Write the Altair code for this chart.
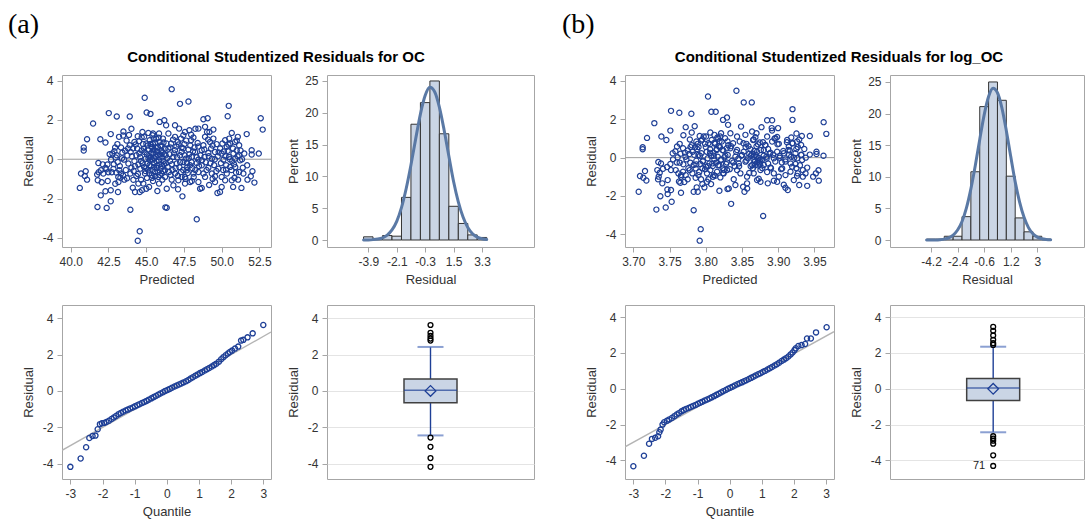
import altair as alt
import pandas as pd

FONT = "Liberation Sans"
SERIF = "Liberation Serif"
FRAME = "#A6A6A6"
MARK = "#1E3F96"
FILL = "#CAD5E5"
CURVE = "#5A79A5"
TXT = "#333333"

# ------------------------------------------------------------------ data
# (a) Residual vs Predicted
scatter_a = [
    (40.60,-1.46),(40.68,-0.73),(40.99,-0.61),(40.93,-0.85),(41.08,-1.04),(40.86,0.60),(40.86,0.44),(41.08,1.02),
    (41.48,1.82),(41.77,-2.43),(41.99,-1.84),(41.83,-0.19),(41.85,-0.66),(42.00,-0.56),(41.75,-0.78),(41.79,-1.07),
    (42.05,-1.17),(42.16,-0.73),(42.30,-0.44),(42.43,-0.27),(42.12,-0.26),(42.30,0.85),(41.96,1.02),(42.52,2.35),
    (42.38,-2.48),(42.30,-1.63),(42.45,-1.11),(42.36,-0.51),(42.49,-0.66),(42.65,-2.14),(42.65,-1.58),(43.13,-1.67),
    (42.65,1.28),(43.05,2.18),(43.20,1.14),(43.49,1.41),(43.47,1.21),(42.58,0.26),(42.76,0.29),(42.89,0.41),
    (42.98,0.09),(43.11,-0.14),(42.67,-0.02),(42.83,-0.49),(42.72,-0.66),(43.02,-0.68),(43.22,-0.56),(43.33,-0.73),
    (43.47,-0.83),(43.16,-1.16),(43.29,-0.94),(43.55,-1.04),(42.94,0.60),(43.09,0.77),(43.33,0.60),(43.42,0.34),
    (43.60,0.43),(43.53,-0.02),(43.91,2.18),(43.86,1.24),(44.02,1.55),(43.95,-2.57),(44.57,-3.67),(44.44,-4.15),
    (44.11,-1.45),(44.26,-1.67),(44.57,-1.67),(44.72,-1.58),(44.48,-1.24),(44.66,-1.04),(43.73,-0.97),(43.95,-0.73),
    (44.17,-0.60),(44.35,-0.85),(44.02,-0.43),(43.82,-0.22),(44.22,-0.09),(44.48,-0.27),(44.61,-0.48),(44.66,-0.09),
    (43.75,0.19),(43.97,0.37),(44.13,0.56),(44.30,0.75),(44.53,0.92),(44.70,1.12),(44.79,0.77),(44.35,0.20),
    (44.55,0.29),(43.91,0.71),(44.22,0.88),(44.44,1.17),(44.90,3.13),(45.03,2.38),(45.28,2.31),(45.89,1.90),
    (46.20,1.99),(45.74,-1.62),(46.27,-2.45),(44.81,-1.24),(45.01,-1.50),(45.19,-1.41),(45.45,-1.11),(45.85,-1.24),
    (46.07,-1.04),(44.92,-0.73),(45.14,-0.56),(45.36,-0.82),(45.58,-0.65),(45.81,-0.90),(46.03,-0.73),(46.25,-0.56),
    (44.86,-0.39),(45.08,-0.22),(45.30,-0.36),(45.52,-0.19),(45.74,-0.32),(45.96,-0.48),(46.18,-0.26),(44.97,0.03),
    (45.19,0.15),(45.41,-0.02),(45.63,0.12),(45.85,-0.05),(46.07,0.09),(46.29,0.20),(44.90,0.37),(45.12,0.49),
    (45.34,0.32),(45.56,0.46),(45.78,0.60),(46.00,0.43),(46.23,0.54),(45.01,0.80),(45.23,0.97),(45.45,0.77),
    (45.67,1.04),(45.89,0.88),(46.11,1.05),(46.34,0.80),(44.86,1.14),(45.41,1.22),(45.14,1.34),(45.85,1.31),
    (44.75,1.39),(45.45,1.31),(45.05,-0.95),(45.25,-0.05),(45.48,0.30),(45.70,-0.45),(45.92,0.25),(46.15,-0.10),
    (45.35,0.62),(45.60,-0.85),(45.95,0.70),(46.10,0.35),(45.15,0.05),(45.55,0.05),(45.75,0.20),(46.05,-0.35),
    (45.40,-0.55),(45.20,-0.72),
    (46.69,3.57),(47.24,2.82),(47.80,2.94),(50.47,2.72),(50.40,2.19),(52.59,2.09),(52.72,1.51),(48.79,2.04),
    (49.07,2.09),(48.90,1.65),(49.03,1.39),(49.19,1.39),(49.45,1.51),(48.46,1.56),(48.26,1.55),(47.86,1.48),
    (50.67,1.34),(51.07,1.14),(51.66,1.28),(51.99,0.46),(51.99,0.24),(52.46,0.29),(51.50,0.29),(51.40,-0.43),
    (52.04,-0.61),(51.93,-0.87),(51.71,-1.04),(52.17,-1.19),(51.31,-1.46),(51.09,-1.04),(50.76,-1.41),(50.00,-1.41),
    (49.89,-1.67),(49.72,-1.72),(49.17,-1.31),(48.68,-1.46),(48.57,-1.50),(48.35,-3.06),(47.40,-1.89),(47.11,-1.53),
    (46.36,-2.47),(48.02,-1.11),(47.91,-1.16),(46.69,-1.04),(46.91,-0.73),(46.51,-0.65),(47.13,-1.07),(47.57,-0.90),
    (47.31,-0.65),(47.68,-0.56),(48.13,-0.73),(48.46,-0.65),(48.79,-0.73),(48.90,-0.90),(49.35,-0.73),(49.56,-0.87),
    (50.00,-0.90),(50.34,-0.73),(50.29,-0.53),(50.95,-0.68),(50.82,-0.26),(50.56,-0.39),(49.78,-0.48),(49.12,-0.43),
    (48.68,-0.31),(48.35,-0.19),(47.91,-0.31),(47.46,-0.14),(47.02,-0.22),(46.58,-0.09),(46.42,-0.39),(46.80,0.12),
    (47.24,0.20),(47.62,0.03),(48.02,0.12),(48.46,-0.02),(48.86,0.12),(49.35,0.03),(49.74,0.15),(50.12,-0.02),
    (50.49,0.12),(50.89,0.03),(51.22,-0.05),(51.16,0.20),(50.78,0.29),(50.40,0.43),(50.00,0.29),(49.56,0.37),
    (49.12,0.32),(48.68,0.46),(48.24,0.37),(47.80,0.49),(47.35,0.37),(46.91,0.46),(46.47,0.54),(46.65,0.80),
    (47.09,0.88),(47.53,0.77),(47.97,0.97),(48.41,0.83),(48.79,0.71),(49.23,0.88),(49.67,0.77),(50.23,0.97),
    (50.56,0.80),(50.89,0.88),(51.16,0.71),(50.34,0.63),(46.91,1.14),(47.46,1.22),(48.13,1.11),(48.90,1.14),
    (49.45,1.05),(46.47,1.31),(46.32,1.73),(46.91,1.73),(47.18,1.56),(47.57,1.39),(49.56,-1.16),(50.23,-1.07),
    (50.67,-1.07),(51.44,-0.73),(51.69,-0.31),(48.46,-1.16),(47.57,-1.24),(46.80,-1.33),(46.36,-1.50),
    (46.55,0.25),(46.75,-0.55),(47.00,0.65),(47.20,-0.40),(47.45,0.55),(47.70,-0.20),(47.85,0.25),(48.05,-0.45),
    (48.20,0.60),(48.60,0.20),(48.95,-0.15),(49.30,0.55),(49.50,-0.30),(49.90,0.55),(50.10,-0.55),(50.70,-0.10),
    (51.00,0.45),(50.25,0.15),(47.75,-0.70),(47.35,-0.90),
    (44.60,0.10),(44.75,-0.20),(44.85,0.55),(45.00,-0.45),(45.10,0.70),(45.22,-0.30),(45.30,0.10),(45.38,-0.95),
    (45.45,0.45),(45.52,-0.40),(45.60,0.85),(45.68,-0.10),(45.72,0.40),(45.80,-0.65),(45.88,0.10),(45.95,-0.25),
    (46.02,0.65),(46.12,-0.60),(46.20,0.25),(46.30,-0.20),(45.05,0.25),(45.28,0.78),(45.62,0.60),(45.90,-0.80),
    (46.15,0.85),(44.95,-0.60),(45.50,1.05),(45.82,1.10),(46.25,-0.90),(44.70,0.45),
    (46.60,0.60),(46.70,-0.25),(46.85,0.30),(46.95,-0.45),(47.05,0.10),(47.15,0.75),(47.25,-0.15),(47.35,0.60),
    (47.45,-0.55),(47.55,0.20),(47.65,0.95),(47.72,-0.40),(47.82,0.05),(47.92,0.70),(48.00,-0.15),(48.10,0.40),
    (48.25,-0.55),(48.35,0.10),(48.45,0.65),(46.78,1.00),(47.10,-0.85),(47.60,-1.00),(48.15,-0.90),(46.62,-0.80),
    (47.98,1.25),(47.30,1.05),(46.40,0.05),(48.50,-0.35),
    (48.70,-0.05),(48.85,0.50),(49.00,-0.55),(49.15,0.15),(49.25,-0.20),(49.40,0.70),(49.55,0.00),(49.65,-0.60),
    (49.80,0.35),(49.95,-0.20),(50.05,0.80),(50.15,0.40),(50.30,-0.30),(50.45,0.75),(50.55,0.00),(50.65,-0.55),
    (50.75,0.55),(50.90,-0.40),(51.05,0.15),(51.15,-0.65),(51.25,0.45),(51.35,0.00),(50.50,1.05),(49.10,1.00),
    (51.00,0.95),(50.85,-0.95),(49.40,-1.00),
    (42.85,-0.25),(43.05,0.20),(43.25,-0.35),(43.40,0.05),(43.65,-0.55),(43.80,0.55),(44.05,0.15),(44.25,-0.35),
    (44.40,0.55),(43.15,-0.90),(43.70,0.95),(44.45,-0.75),(42.95,-1.25),(44.15,-1.05),
]

# (b) Residual vs Predicted (log scale)
scatter_b = [
    (3.7074,-1.78),(3.7092,-0.96),(3.7138,-1.05),(3.7180,-1.19),(3.7161,-0.70),(3.7129,0.54),(3.7129,0.44),(3.7189,1.03),
    (3.7290,1.80),(3.7318,-2.71),(3.7373,-2.01),(3.7447,-2.60),(3.7474,-1.90),(3.7529,-2.30),(3.7470,-1.66),(3.7520,-1.69),
    (3.7658,-1.83),(3.7387,1.10),(3.7456,0.92),(3.7520,2.44),(3.7635,2.34),(3.7511,1.41),(3.7691,1.17),(3.7723,1.59),
    (3.7801,2.29),(3.7806,1.31),(3.7847,1.64),(3.8031,3.19),(3.8077,2.39),(3.8137,2.39),(3.7833,-2.74),(3.7930,-3.73),
    (3.7916,-4.33),(3.7345,-0.23),(3.7382,-0.30),(3.7331,-0.65),(3.7364,-0.79),(3.7410,-0.58),(3.7465,-0.49),(3.7520,-0.65),
    (3.7341,-1.13),(3.7400,-1.34),(3.7474,-1.17),(3.7350,-0.99),(3.7511,-0.33),(3.7543,0.23),(3.7580,0.33),(3.7612,0.02),
    (3.7640,-0.26),(3.7548,-0.09),(3.7585,-0.65),(3.7622,-0.82),(3.7658,-0.99),(3.7686,-0.73),(3.7723,-0.91),(3.7649,-1.31),
    (3.7750,-1.13),(3.7704,-1.27),(3.7603,0.58),(3.7640,0.72),(3.7686,0.49),(3.7713,0.26),(3.7750,0.37),(3.7732,-0.09),
    (3.7833,-1.78),(3.7875,-1.55),(3.7889,-1.78),(3.7953,-1.38),(3.7981,-1.55),(3.8017,-1.26),(3.8073,-1.38),(3.8100,-1.00),
    (3.8036,-1.13),(3.7935,-1.13),(3.7778,-0.65),(3.7815,-0.82),(3.7861,-0.56),(3.7898,-0.91),(3.7833,-0.38),(3.7787,-0.26),
    (3.7870,-0.16),(3.7925,-0.33),(3.7953,-0.56),(3.7962,-0.16),(3.7774,0.19),(3.7819,0.31),(3.7852,0.54),(3.7889,0.72),
    (3.7935,0.89),(3.7971,1.10),(3.7990,0.72),(3.7898,0.14),(3.7940,0.23),(3.7806,0.65),(3.7870,0.84),(3.7916,1.13),
    (3.8017,-0.82),(3.8063,-0.65),(3.8110,-0.91),(3.8156,-0.73),(3.8201,-1.03),(3.8247,-0.82),(3.8294,-0.65),(3.8004,-0.47),
    (3.8050,-0.30),(3.8096,-0.44),(3.8142,-0.26),(3.8188,-0.40),(3.8234,-0.56),(3.8280,-0.33),(3.8027,-0.03),(3.8073,0.09),
    (3.8119,-0.09),(3.8165,0.05),(3.8211,-0.12),(3.8257,0.02),(3.8303,0.14),(3.8013,0.31),(3.8059,0.44),(3.8105,0.26),
    (3.8151,0.40),(3.8197,0.54),(3.8243,0.37),(3.8289,0.49),(3.8036,0.75),(3.8082,0.92),(3.8128,0.72),(3.8174,0.99),
    (3.8220,0.84),(3.8266,1.01),(3.8004,1.10),(3.8119,1.19),(3.8063,1.31),(3.8211,1.27),(3.8238,1.97),(3.8293,2.09),
    (3.8350,-2.41),(3.8188,-1.73),(3.8300,-1.64),
    (3.8423,3.49),(3.8524,2.88),(3.8635,2.88),(3.9197,2.53),(3.9197,1.97),(3.9627,1.85),(3.9664,1.24),(3.8847,1.95),
    (3.8916,1.95),(3.8910,1.54),(3.8915,1.41),(3.8998,1.54),(3.8985,1.08),(3.8769,1.59),(3.8700,1.27),(3.8639,1.36),
    (3.9252,1.26),(3.9326,1.13),(3.9436,1.13),(3.9528,0.31),(3.9528,0.19),(3.9625,0.10),(3.9436,0.16),(3.9400,-0.52),
    (3.9556,-0.66),(3.9520,-0.82),(3.9482,-0.99),(3.9560,-1.20),(3.9400,-1.47),(3.9340,-0.99),(3.9290,-1.43),(3.9132,-1.69),
    (3.9100,-1.57),(3.9077,-1.41),(3.8939,-1.20),(3.8856,-1.34),(3.8792,-3.04),(3.8571,-1.61),(3.8534,-1.78),(3.8515,-1.52),
    (3.8708,-1.17),(3.8731,-1.10),(3.8662,-0.82),(3.8570,-0.99),(3.8478,-0.82),(3.8386,-1.13),(3.8432,-0.65),(3.8755,-0.65),
    (3.8847,-0.75),(3.8939,-0.82),(3.9008,-0.99),(3.9100,-0.91),(3.9169,-0.73),(3.9270,-0.82),(3.9238,-0.33),(3.9192,-0.47),
    (3.9054,-0.56),(3.8893,-0.51),(3.8801,-0.38),(3.8732,-0.26),(3.8640,-0.38),(3.8548,-0.21),(3.8456,-0.30),(3.8363,-0.16),
    (3.8409,0.05),(3.8501,0.14),(3.8579,-0.03),(3.8662,0.05),(3.8755,-0.09),(3.8837,0.05),(3.8939,-0.03),(3.9021,0.09),
    (3.9100,-0.09),(3.9178,0.05),(3.9261,-0.03),(3.9330,-0.12),(3.9316,0.14),(3.9238,0.23),(3.9160,0.37),(3.9077,0.23),
    (3.8985,0.31),(3.8893,0.26),(3.8801,0.40),(3.8708,0.31),(3.8616,0.44),(3.8524,0.31),(3.8432,0.40),(3.8340,0.49),
    (3.8377,0.75),(3.8469,0.84),(3.8561,0.72),(3.8653,0.92),(3.8745,0.79),(3.8824,0.66),(3.8916,0.84),(3.9008,0.72),
    (3.9123,0.92),(3.9192,0.75),(3.9261,0.84),(3.9316,0.66),(3.9146,0.58),(3.8432,1.10),(3.8547,1.19),(3.8685,1.06),
    (3.8847,1.10),(3.8962,1.01),(3.8340,1.27),(3.8308,1.71),(3.8487,1.62),(3.8570,-1.34),(3.8409,-1.43),(3.8317,-1.61),
    (3.8755,-1.26),(3.8985,-1.26),(3.9215,-1.17),(3.9377,-0.82),
    (3.8400,-0.45),(3.8600,0.20),(3.8650,-0.55),(3.8700,0.60),(3.8780,-0.10),(3.8680,-0.20),(3.8620,0.10),(3.8720,-0.40),
    (3.8860,0.45),(3.9050,-0.25),(3.9150,0.15),(3.9250,0.45),(3.8550,0.55),(3.8450,-0.05),
    (3.7920,0.10),(3.7960,-0.20),(3.8000,0.55),(3.8030,-0.45),(3.8060,0.70),(3.8090,-0.30),(3.8110,0.10),(3.8130,-0.95),
    (3.8150,0.45),(3.8170,-0.40),(3.8190,0.85),(3.8210,-0.10),(3.8230,0.40),(3.8250,-0.65),(3.8270,0.10),(3.8290,-0.25),
    (3.8310,0.65),(3.8330,-0.60),(3.8060,0.25),(3.8120,0.78),(3.8180,0.60),(3.8240,-0.80),(3.8300,0.85),(3.7990,-0.60),
    (3.8160,1.05),(3.8200,1.10),(3.7880,0.45),(3.7950,0.95),
    (3.8350,0.60),(3.8380,-0.25),(3.8420,0.30),(3.8460,-0.45),(3.8490,0.10),(3.8520,0.75),(3.8560,-0.15),(3.8590,0.60),
    (3.8620,-0.45),(3.8640,0.20),(3.8660,0.95),(3.8680,-0.40),(3.8700,0.05),(3.8720,0.70),(3.8740,-0.15),(3.8760,0.40),
    (3.8780,-0.55),(3.8800,0.10),(3.8820,0.65),(3.8840,-0.05),(3.8860,-0.30),(3.8880,0.20),(3.8660,-0.10),(3.8690,0.15),
    (3.8710,-0.25),(3.8730,0.00),(3.8670,0.35),(3.8750,-0.35),(3.8600,-0.80),(3.8790,0.80),
    (3.8900,-0.55),(3.8930,0.15),(3.8960,-0.20),(3.8990,0.70),(3.9020,0.00),(3.9040,-0.60),(3.9070,0.35),(3.9100,-0.20),
    (3.9120,0.80),(3.9140,0.40),(3.9170,-0.30),(3.9200,0.75),(3.9220,0.00),(3.9250,-0.55),(3.9270,0.55),(3.9300,-0.40),
    (3.9320,0.15),(3.9340,-0.65),(3.9360,0.45),(3.9380,0.00),(3.9180,1.05),(3.8950,1.00),(3.9290,0.95),(3.9260,-0.95),
    (3.7600,-0.25),(3.7650,0.20),(3.7690,-0.35),(3.7720,0.05),(3.7760,-0.55),(3.7790,0.55),(3.7840,0.15),(3.7870,-0.35),
    (3.7900,0.55),(3.7660,-0.90),(3.7780,0.95),(3.7910,-0.75),(3.7630,-1.25),(3.7860,-1.05),
]

# Histograms (percent per bin) and fitted density curves
hist_a_edges = [-4.2, -3.6, -3.0, -2.4, -1.8, -1.2, -0.6, 0.0, 0.6, 1.2, 1.8, 2.4, 3.0, 3.6]
hist_a_pct = [0.5, 0.2, 0.7, 0.6, 6.7, 18.2, 21.6, 25.0, 16.7, 5.3, 2.6, 0.8, 0.4]
curve_a_x = [-4.2, -3.9, -3.6, -3.3, -3.0, -2.7, -2.4, -2.1, -1.8, -1.5, -1.2, -0.9, -0.6, -0.3,
             0.0, 0.3, 0.6, 0.9, 1.2, 1.5, 1.8, 2.1, 2.4, 2.7, 3.0, 3.3, 3.6]
curve_a_y = [0.01, 0.02, 0.06, 0.15, 0.35, 0.78, 1.58, 2.94, 5.09, 8.1, 11.8, 15.9, 19.8, 22.7,
             24.0, 23.3, 20.9, 17.3, 13.2, 9.2, 6.0, 3.6, 1.96, 0.99, 0.46, 0.2, 0.08]

hist_b_edges = [-4.5, -3.9, -3.3, -2.7, -2.1, -1.5, -0.9, -0.3, 0.3, 0.9, 1.5, 2.1, 2.7, 3.3, 3.9]
hist_b_pct = [0.15, 0.15, 0.6, 0.6, 3.7, 10.8, 21.1, 25.0, 22.1, 10.1, 3.5, 1.3, 0.6, 0.15]
curve_b_x = [-4.5, -4.2, -3.9, -3.6, -3.3, -3.0, -2.7, -2.4, -2.1, -1.8, -1.5, -1.2, -0.9, -0.6, -0.3,
             0.0, 0.3, 0.6, 0.9, 1.2, 1.5, 1.8, 2.1, 2.4, 2.7, 3.0, 3.3, 3.6, 3.9]
curve_b_y = [0.0, 0.01, 0.02, 0.06, 0.15, 0.35, 0.78, 1.58, 2.94, 5.09, 8.1, 11.8, 15.9, 19.8, 22.7,
             24.0, 23.3, 20.9, 17.3, 13.2, 9.2, 6.0, 3.6, 1.96, 0.99, 0.46, 0.2, 0.08, 0.03]

# Q-Q plots
qq_a_q = [-3.00, -2.68, -2.51, -2.41, -2.31, -2.22, -2.15, -2.08, -2.02,
          -1.95, -1.88, -1.80, -1.72, -1.65, -1.58, -1.50, -1.43, -1.36, -1.28, -1.21, -1.14, -1.06,
          -0.99, -0.92, -0.85, -0.77, -0.70, -0.63, -0.56, -0.48, -0.41, -0.34, -0.27, -0.20, -0.12,
          -0.05, 0.02, 0.09, 0.16, 0.24, 0.31, 0.38, 0.45, 0.52, 0.60, 0.67, 0.74, 0.81, 0.89, 0.96,
          1.03, 1.10, 1.18, 1.25, 1.32, 1.40, 1.47, 1.54, 1.62, 1.69, 1.76, 1.83, 1.90, 1.96,
          2.03, 2.12, 2.22, 2.31, 2.38, 2.51, 2.67, 3.00]
qq_a_r = [-4.18, -3.72, -3.10, -2.59, -2.48, -2.46, -2.11, -1.83, -1.78,
          -1.76, -1.71, -1.64, -1.55, -1.46, -1.38, -1.28, -1.21, -1.15, -1.08, -1.03, -0.97, -0.91,
          -0.85, -0.79, -0.73, -0.66, -0.61, -0.55, -0.48, -0.41, -0.34, -0.28, -0.21, -0.14, -0.07,
          0.00, 0.05, 0.11, 0.17, 0.24, 0.30, 0.35, 0.41, 0.47, 0.53, 0.60, 0.68, 0.75, 0.84, 0.91,
          0.98, 1.04, 1.12, 1.19, 1.26, 1.34, 1.42, 1.50, 1.61, 1.74, 1.86, 1.96, 2.06, 2.14,
          2.22, 2.33, 2.44, 2.77, 2.81, 2.95, 3.17, 3.63]
qq_a_ref_q = [-3.26, 3.24]
qq_a_ref_r = [-3.27, 3.24]

qq_b_q = [-3.00, -2.67, -2.51, -2.42, -2.32, -2.23, -2.19, -2.15, -2.09, -2.04,
          -1.95, -1.88, -1.80, -1.72, -1.65, -1.58, -1.50, -1.43, -1.36, -1.28, -1.21, -1.14, -1.06,
          -0.99, -0.92, -0.85, -0.77, -0.70, -0.63, -0.56, -0.48, -0.41, -0.34, -0.27, -0.20, -0.12,
          -0.05, 0.02, 0.09, 0.16, 0.24, 0.31, 0.38, 0.45, 0.52, 0.60, 0.67, 0.74, 0.81, 0.89, 0.96,
          1.03, 1.10, 1.18, 1.25, 1.32, 1.40, 1.47, 1.54, 1.62, 1.69, 1.76, 1.83, 1.90, 1.96,
          2.02, 2.06, 2.14, 2.24, 2.35, 2.41, 2.53, 2.69, 3.02]
qq_b_r = [-4.33, -3.74, -3.07, -2.80, -2.74, -2.65, -2.43, -2.28, -2.00, -1.87,
          -1.78, -1.71, -1.63, -1.53, -1.44, -1.36, -1.26, -1.19, -1.13, -1.07, -1.02, -0.96, -0.90,
          -0.84, -0.78, -0.72, -0.65, -0.60, -0.54, -0.48, -0.41, -0.34, -0.28, -0.21, -0.14, -0.07,
          0.00, 0.06, 0.12, 0.18, 0.25, 0.31, 0.36, 0.42, 0.48, 0.55, 0.61, 0.67, 0.74, 0.81, 0.87,
          0.94, 1.00, 1.08, 1.15, 1.22, 1.30, 1.37, 1.45, 1.55, 1.63, 1.71, 1.80, 1.92, 2.03,
          2.16, 2.26, 2.39, 2.44, 2.50, 2.81, 2.81, 3.15, 3.44]
qq_b_ref_q = [-3.26, 3.25]
qq_b_ref_r = [-3.24, 3.19]

# Box plots: q1, median, q3, mean, lower whisker, upper whisker, outliers
box_a_stats = {"q1": -0.65, "med": 0.03, "q3": 0.65, "mean": 0.0, "wlo": -2.45, "whi": 2.42}
box_a_out = [3.63, 3.20, 3.03, 2.88, 2.77, -2.57, -3.08, -3.70, -4.18]
box_b_stats = {"q1": -0.66, "med": 0.04, "q3": 0.57, "mean": 0.0, "wlo": -2.43, "whi": 2.35}
box_b_out = [3.46, 3.24, 2.98, 2.74, 2.55, 2.45, -2.65, -2.78, -2.90, -3.07, -3.72, -4.31]
box_b_label = ["71"]
box_b_label_val = [-4.31]

# ------------------------------------------------------------------ helpers
Y_TICKS = [-4, -2, 0, 2, 4]
PT_SIZE = 27


def y_enc(field, dom, title, values, grid=False):
    return alt.Y(f"{field}:Q",
                 scale=alt.Scale(domain=dom, nice=False, zero=False),
                 axis=alt.Axis(title=title, values=values, labelExpr="datum.value",
                               grid=grid, gridColor="#E4E4E4", gridWidth=1,
                               minExtent=22, maxExtent=22, titlePadding=5))


def x_enc(field, dom, title, values, expr="datum.value"):
    return alt.X(f"{field}:Q",
                 scale=alt.Scale(domain=dom, nice=False, zero=False),
                 axis=alt.Axis(title=title, values=values, labelExpr=expr, labelFlush=False,
                               titlePadding=6))


def scatter_chart(points, xdom, xvals, xfmt, ydom, title):
    df = pd.DataFrame(points, columns=["Predicted", "Residual"])
    X = x_enc("Predicted", xdom, "Predicted", xvals, f"format(datum.value, '{xfmt}')")
    Y = y_enc("Residual", ydom, "Residual", Y_TICKS)
    zero = alt.Chart(pd.DataFrame({"Residual": [0.0]})).mark_rule(
        color="#9A9A9A", strokeWidth=1).encode(y=Y)
    pts = alt.Chart(df).mark_point(shape="circle", filled=False, color=MARK, size=PT_SIZE,
                                   strokeWidth=1.2, opacity=1).encode(x=X, y=Y)
    return alt.layer(zero, pts).properties(width=209, height=172, title=title)


def hist_chart(edges, pct, cx, cy, xdom, xvals, width, ydom):
    bars = pd.DataFrame({"lo": edges[:-1], "hi": edges[1:], "pct": pct,
                         "base": [0.0] * len(pct)})
    curve = pd.DataFrame({"lo": cx, "pct": cy})
    X = x_enc("lo", xdom, "Residual", xvals)
    Y = y_enc("pct", ydom, "Percent", [0, 5, 10, 15, 20, 25])
    b = alt.Chart(bars).mark_rect(fill=FILL, stroke="#333333", strokeWidth=1).encode(
        x=X, x2="hi:Q", y=Y, y2="base:Q")
    c = alt.Chart(curve).mark_line(color=CURVE, strokeWidth=3, interpolate="monotone",
                                   strokeCap="round").encode(x=X, y=Y)
    return alt.layer(b, c).properties(width=width, height=172)


def qq_chart(q, r, rq, rr, xdom, ydom):
    df = pd.DataFrame({"Quantile": q, "Residual": r})
    ref = pd.DataFrame({"Quantile": rq, "Residual": rr})
    X = x_enc("Quantile", xdom, "Quantile", [-3, -2, -1, 0, 1, 2, 3])
    Y = y_enc("Residual", ydom, "Residual", Y_TICKS)
    line = alt.Chart(ref).mark_line(color="#B4B4B4", strokeWidth=1.4, clip=True).encode(x=X, y=Y)
    pts = alt.Chart(df).mark_point(shape="circle", filled=False, color=MARK, size=PT_SIZE,
                                   strokeWidth=1.3, opacity=1).encode(x=X, y=Y)
    return alt.layer(line, pts).properties(width=209, height=174)


def box_chart(st, outs, xdom, width, ydom, labels=None, label_vals=None):
    X = alt.X("pos:Q", scale=alt.Scale(domain=xdom, nice=False, zero=False), axis=None)

    def Y(field):
        return y_enc(field, ydom, "Residual", Y_TICKS, grid=True)

    whisk = pd.DataFrame({"pos": [0, 0], "a": [st["wlo"], st["q3"]], "b": [st["q1"], st["whi"]]})
    box = pd.DataFrame({"pos": [0], "a": [st["q1"]], "b": [st["q3"]]})
    caps = pd.DataFrame({"pos": [0, 0], "a": [st["wlo"], st["whi"]]})
    med = pd.DataFrame({"pos": [0], "a": [st["med"]]})
    mean = pd.DataFrame({"pos": [0], "a": [st["mean"]]})
    out = pd.DataFrame({"pos": [0] * len(outs), "a": outs})

    layers = [
        alt.Chart(whisk).mark_rule(color=MARK, strokeWidth=1.4).encode(x=X, y=Y("a"), y2="b:Q"),
        alt.Chart(box).mark_bar(size=53, fill=FILL, stroke="#404040", strokeWidth=1.5).encode(
            x=X, y=Y("a"), y2="b:Q"),
        alt.Chart(med).mark_tick(orient="horizontal", size=53, thickness=1.5, color=MARK).encode(
            x=X, y=Y("a")),
        alt.Chart(caps).mark_tick(orient="horizontal", size=26, thickness=2, color="#5A78BF").encode(
            x=X, y=Y("a")),
        alt.Chart(mean).mark_point(shape="diamond", filled=False, size=115, color=MARK,
                                   strokeWidth=1.3, opacity=1).encode(x=X, y=Y("a")),
        alt.Chart(out).mark_point(shape="circle", filled=False, size=24, color="black",
                                  strokeWidth=1.3, opacity=1).encode(x=X, y=Y("a")),
    ]
    if labels:
        lab = pd.DataFrame({"pos": [0] * len(labels), "a": label_vals, "t": labels})
        layers.append(alt.Chart(lab).mark_text(align="right", baseline="middle", dx=-8,
                                               font=FONT, fontSize=11, color="#222222").encode(
            x=X, y=Y("a"), text="t:N"))
    return alt.layer(*layers).properties(width=width, height=174)


def tag(text, dx):
    return alt.Title(text, anchor="start", frame="group", dx=dx, offset=36, font=SERIF,
                     fontSize=28, fontWeight="normal", color="black")


def main_title(text, dx):
    # placed over the panel; a negative offset brings it down below the (a)/(b) tag line
    return alt.Title(text, anchor="middle", frame="bounds", dx=dx, offset=-55, font=FONT,
                     fontSize=15, fontWeight="bold", color="black")


# ------------------------------------------------------------------ panels
scat_a = scatter_chart(scatter_a, [39.42, 53.27], [40, 42.5, 45, 47.5, 50, 52.5], ".1f",
                       [-4.47, 4.29], tag("(a)", -54))
hist_a = hist_chart(hist_a_edges, hist_a_pct, curve_a_x, curve_a_y, [-6.516, 6.593],
                    [-3.9, -2.1, -0.3, 1.5, 3.3], 207, [-1.1, 25.94])
qq_a = qq_chart(qq_a_q, qq_a_r, qq_a_ref_q, qq_a_ref_r, [-3.26, 3.24], [-4.85, 4.73])
box_a = box_chart(box_a_stats, box_a_out, [-1, 1], 207, [-4.85, 4.73])

scat_b = scatter_chart(scatter_b, [3.6885, 3.977], [3.70, 3.75, 3.80, 3.85, 3.90, 3.95], ".2f",
                       [-4.66, 4.31], tag("(b)", -63))
hist_b = hist_chart(hist_b_edges, hist_b_pct, curve_b_x, curve_b_y, [-6.976, 6.159],
                    [-4.2, -2.4, -0.6, 1.2, 3], 194, [-1.1, 26.1])
qq_b = qq_chart(qq_b_q, qq_b_r, qq_b_ref_q, qq_b_ref_r, [-3.26, 3.25], [-5.04, 4.68])
box_b = box_chart(box_b_stats, box_b_out, [-1, 0.874], 194, [-5.04, 4.68],
                  box_b_label, box_b_label_val)

S_COL = 14
S_ROW = 17

panel_a = alt.vconcat(alt.hconcat(scat_a, hist_a, spacing=S_COL),
                      alt.hconcat(qq_a, box_a, spacing=S_COL), spacing=S_ROW,
                      title=main_title("Conditional Studentized Residuals for OC", 5))
panel_b = alt.vconcat(alt.hconcat(scat_b, hist_b, spacing=S_COL),
                      alt.hconcat(qq_b, box_b, spacing=S_COL), spacing=S_ROW,
                      title=main_title("Conditional Studentized Residuals for log_OC", 16))

chart = alt.hconcat(panel_a, panel_b, spacing=26).properties(
    padding={"left": 7, "top": 10, "right": 0, "bottom": 0}
).configure_view(
    stroke=FRAME, strokeWidth=1
).configure_axis(
    labelFont=FONT, labelFontSize=12, labelColor=TXT,
    titleFont=FONT, titleFontSize=13, titleFontWeight="normal", titleColor=TXT,
    tickColor=FRAME, tickSize=5, tickWidth=1, domain=False, grid=False,
    labelPadding=4, titlePadding=5,
)

chart.save("out.html", embed_options={"renderer": "svg", "actions": False})
